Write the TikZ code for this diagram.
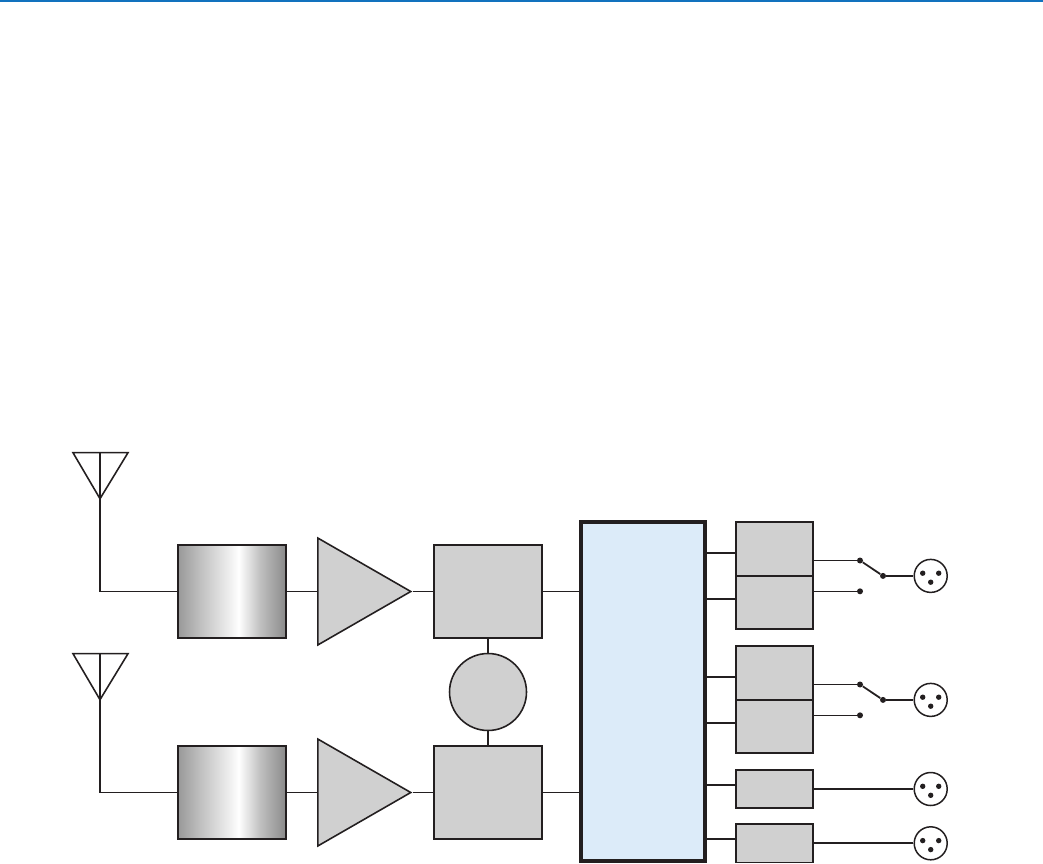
\documentclass[tikz,border=0pt]{standalone}
\usetikzlibrary{calc,shapes.geometric}
\definecolor{ink}{RGB}{35,31,32}
\definecolor{panel}{RGB}{208,208,208}
\definecolor{pale}{RGB}{220,235,249}
\definecolor{rule}{RGB}{18,114,190}
\pgfdeclarehorizontalshading{filtershade}{100bp}{color(0bp)=(black!40);color(25bp)=(black!40);
  color(35bp)=(black!25);color(49bp)=(black!6);color(53bp)=(white);color(63bp)=(black!25);
  color(75bp)=(black!46);color(100bp)=(black!46)}
\tikzset{
  box/.style={draw=ink,fill=panel,line width=1.05pt,inner sep=0pt,minimum width=#1,minimum height=1.86cm},
  box/.default=2.15cm,
  filter/.style={draw=ink,line width=1.05pt,inner sep=0pt,minimum width=2.16cm,minimum height=1.86cm,shading=filtershade},
  amp/.style={draw=ink,fill=panel,line width=.9pt,isosceles triangle,isosceles triangle stretches,
    inner sep=0pt,minimum width=2.14cm,minimum height=1.86cm,anchor=lower side},
  halfbox/.style={box=1.54cm,minimum height=1.07cm},
  lowbox/.style={box=1.54cm,minimum height=.77cm},
  xlr/.style={circle,draw=ink,fill=white,line width=.85pt,inner sep=0pt,minimum size=.66cm,
    path picture={
      \fill[ink] (path picture bounding box.center) ++(-8,-2.7) circle (2.7);
      \fill[ink] (path picture bounding box.center) ++(8,-2.7) circle (2.7);
      \fill[ink] (path picture bounding box.center) ++(0,6.3) circle (2.7);}},
  contact/.style={circle,fill=ink,inner sep=0pt,minimum size=.12cm},
  thin wire/.style={draw=ink,line width=.6pt},
  wire/.style={draw=ink,line width=1pt},
}
\begin{document}
\begin{tikzpicture}[x=.02cm,y=-.02cm]
  \useasboundingbox (0,0) rectangle (1043,864);
  \draw[rule,line width=1pt] (0,.8) -- (1043,.8);
  % the two receive chains
  \foreach \i/\y in {1/591.5,2/792.5} {
    \node[filter] (filt\i) at (232.2,\y) {};
    \node[amp] (amp\i) at (317,\y) {};
    \node[box] (mix\i) at (488,\y) {};
    \coordinate (ant\i) at (100,\y-92.8);
    \draw[ink,line width=.9pt] (ant\i) -- ++(-27,-46) -- ++(55,0) -- cycle (ant\i) -- ++(0,-46);
    \draw[wire] (ant\i) |- (filt\i.west);
    \draw[thin wire] (filt\i.east) -- (amp\i.lower side);
    \draw[wire] (amp\i.apex) -- (mix\i.west);
  }
  \node[circle,draw=ink,fill=panel,line width=.9pt,inner sep=0pt,minimum size=1.54cm] (osc) at (488,692) {};
  \draw[wire] (mix1.south) -- (osc);
  \draw[wire] (osc) -- (mix2.north);
  \node[draw=ink,fill=pale,line width=2.25pt,inner sep=0pt,minimum width=2.47cm,minimum height=6.78cm] (dsp) at (642.9,691.5) {};
  \draw[wire] (mix1.east) -- (dsp.west |- mix1.east);
  \draw[wire] (mix2.east) -- (dsp.west |- mix2.east);
  % outputs with a switch
  \foreach \i/\y in {1/575.9,2/699.9} {
    \node[halfbox] (up\i) at (774.5,\y-26.75) {};
    \node[halfbox] (dn\i) at (774.5,\y+26.75) {};
    \node[xlr] (xlr\i) at (930.7,\y) {};
    \node[contact] (a\i) at (860,\y-15.4) {};
    \node[contact] (b\i) at (860,\y+15.4) {};
    \node[contact] (pole\i) at (883,\y) {};
    \draw[wire] (dsp.east |- 0,\y-23) -- (up\i.west |- 0,\y-23);
    \draw[wire] (dsp.east |- 0,\y+23) -- (dn\i.west |- 0,\y+23);
    \draw[thin wire] (up\i.east |- a\i) -- (a\i);
    \draw[thin wire] (dn\i.east |- b\i) -- (b\i);
    \draw[wire] (a\i) -- (pole\i);
    \draw[wire] (pole\i) -- (xlr\i);
  }
  % direct outputs
  \foreach \i/\y/\l in {3/789/784.7,4/843.3/839.3} {
    \node[lowbox] (low\i) at (774.5,\y) {};
    \node[xlr] (xlr\i) at (930.7,\y) {};
    \draw[wire] (dsp.east |- 0,\l) -- (low\i.west |- 0,\l);
    \draw[wire] (low\i) -- (xlr\i);
  }
\end{tikzpicture}
\end{document}
